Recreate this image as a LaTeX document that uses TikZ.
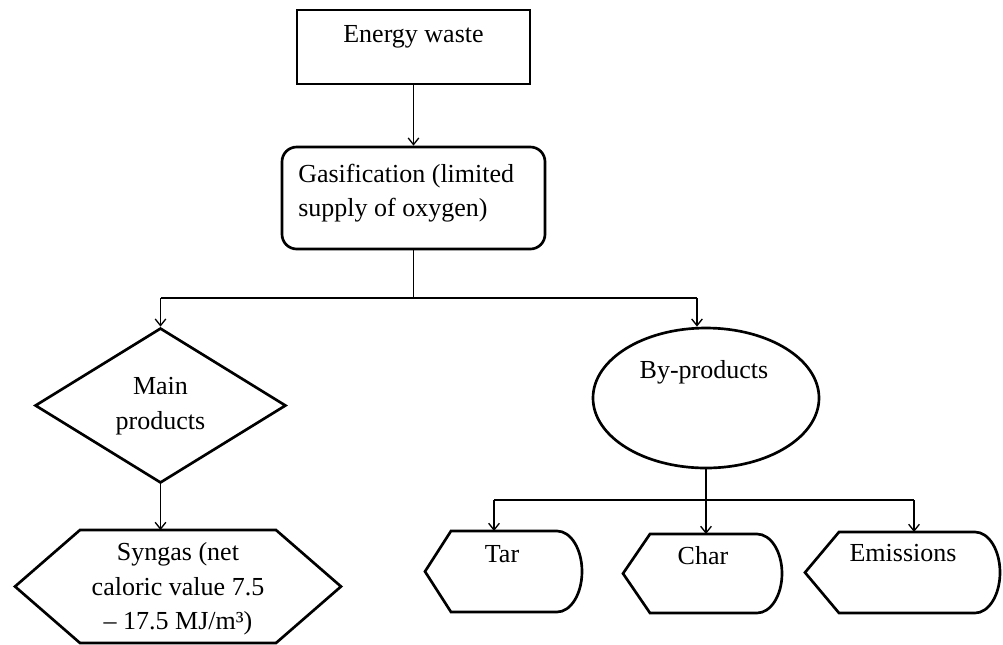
\documentclass[tikz,border=0pt]{standalone}
\usepackage{fontspec}
\setmainfont{Liberation Serif}
\usetikzlibrary{arrows.meta,shapes.geometric}

% Output-style shape: pointed on the left, rounded on the right.
% #1 left tip x, #2 corner x, #3 end of straight edge x, #4 top y, #5 bottom y
\newcommand{\outshape}[5]{%
  \draw[outline] (#1,{(#4+#5)/2}) -- (#2,#4) -- (#3,#4)
    arc[start angle=-90, end angle=90, x radius=25, y radius={(#5-#4)/2}]
    -- (#2,#5) -- cycle;}

\begin{document}
\begin{tikzpicture}[x=0.75pt,y=-0.75pt,
  outline/.style={draw, line width=2pt, line join=miter},
  box/.style={outline, inner sep=0pt},
  wire/.style={line width=1pt},
  conn/.style={wire, -{Straight Barb[length=5pt,width=8pt]}},
  txt/.style={font=\fontsize{19.5}{26}\selectfont, inner sep=0pt, align=center},
]
\useasboundingbox (0,0) rectangle (1003,644);

% Input
\node[box, rectangle, minimum width={233*0.75pt}, minimum height={74*0.75pt}] (energy) at (413.5,47) {};
\node[txt, anchor=base] (energyT) at (413.5,42) {Energy waste};

% Process
\node[box, rectangle, rounded corners=11pt, minimum width={263*0.75pt}, minimum height={102*0.75pt}] (gas) at (413.5,198) {};
\node[txt, anchor=west, align=left] (gasT) at (298,193) {Gasification (limited\\supply of oxygen)};

% Main products
\node[box, diamond, minimum width={251*0.75pt}, minimum height={155*0.75pt}] (main) at (160.5,405.5) {};
\node[txt] (mainT) at (160.5,406) {Main\\products};

% Syngas
\draw[outline] (80,530) -- (276,530) -- (341,586.5) -- (276,643) -- (80,643) -- (15,586.5) -- cycle;
\node[txt] (syngas) at (178,589) {Syngas (net\\caloric value 7.5\\– 17.5 MJ/m³)};
\coordinate (synN) at (160.5,530);

% By-products
\node[box, ellipse, minimum width={226*0.75pt}, minimum height={140*0.75pt}] (byp) at (706,398) {};
\node[txt, anchor=base] (bypT) at (704,378) {By-products};

% Individual by-products
\outshape{425}{451}{557}{531}{612}
\node[txt, anchor=base] (tar) at (502,562) {Tar};
\outshape{623}{650}{757}{534}{613}
\node[txt, anchor=base] (char) at (703,564) {Char};
\outshape{805}{839}{975}{532}{613}
\node[txt, anchor=base] (emis) at (903,561) {Emissions};

\coordinate (tarN) at (494,531);
\coordinate (charN) at (706,534);
\coordinate (emisN) at (914,532);

% Connectors
\draw[conn] (energy.south) -- (gas.north);
\coordinate (split) at (413.5,298);
\coordinate (splitL) at (160.5,298);
\coordinate (splitR) at (697,298);
\draw[wire] (gas.south) -- (split);
\draw[wire] (splitL) -- (splitR);
\draw[conn] (splitL) -- (main.north);
\draw[conn] (splitR) -- (splitR |- byp.north);
\draw[conn] (main.south) -- (synN);

\coordinate (fanL) at (494,500);
\coordinate (fanR) at (914,500);
\draw[wire] (fanL) -- (fanR);
\draw[conn] (byp.south) -- (charN);
\draw[conn] (fanL) -- (tarN);
\draw[conn] (fanR) -- (emisN);
\end{tikzpicture}
\end{document}
